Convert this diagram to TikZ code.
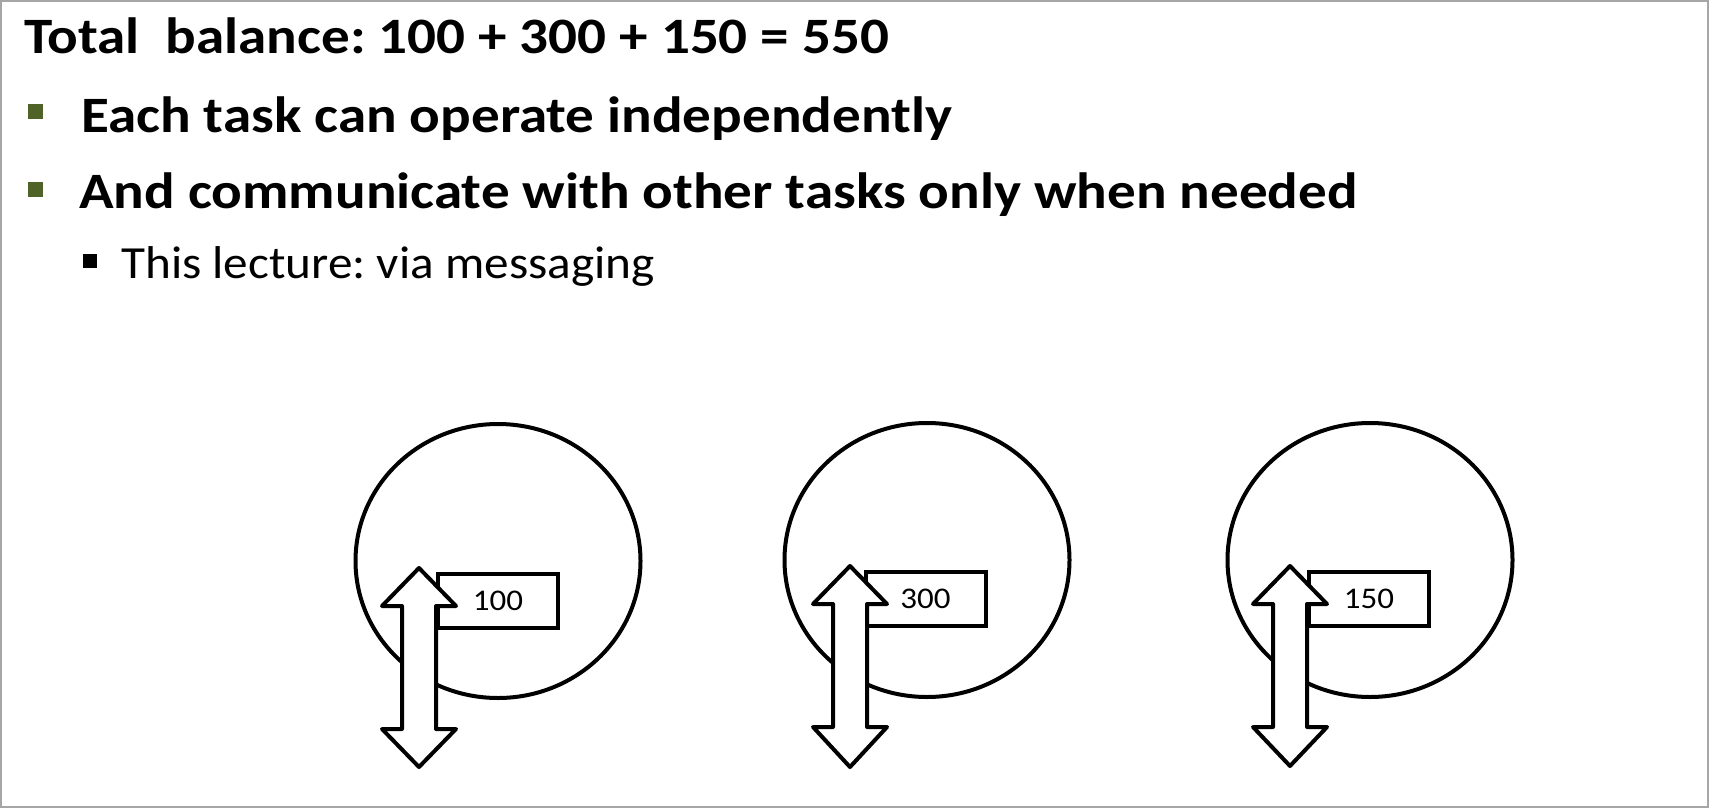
\documentclass[tikz,border=0pt]{standalone}
\usepackage{fontspec}
\setmainfont{Carlito}
\usetikzlibrary{shapes.geometric}
\usepackage{xcolor}
\definecolor{slidegray}{HTML}{A6A6A6}
\definecolor{bulletgreen}{HTML}{4F6228}
\frenchspacing
\begin{document}
\begin{tikzpicture}[x=1pt, y=-1pt,
    headtext/.style={anchor=base west, inner sep=0pt, xscale=1.12,
                     font=\fontsize{51}{60}\selectfont\bfseries},
    subtext/.style={anchor=base west, inner sep=0pt, xscale=1.07,
                    font=\fontsize{46}{54}\selectfont},
    bulletsq/.style={draw=none, inner sep=0pt, minimum size=15pt},
    account/.style={ellipse, draw=black, fill=white, line width=4pt,
                    minimum width=285pt, minimum height=274pt},
    valbox/.style={rectangle, draw=black, fill=white, line width=4pt, inner sep=0pt,
                   minimum width=120pt, minimum height=54pt},
    msgarrow/.style={draw=black, fill=white, line width=4pt, line join=round}]
  \useasboundingbox (0,0) rectangle (1710,808);
  \draw[slidegray, line width=2pt] (1,1) rectangle (1708,807);

  % text lines
  \node[headtext] (title) at (24,53) {Total\ \ balance: 100 + 300 + 150 = 550};
  \node[bulletsq, fill=bulletgreen] (sq1) at (35.5,111) {};
  \node[headtext] (point1) at (81,132) {Each task can operate independently};
  \node[bulletsq, fill=bulletgreen] (sq2) at (35.5,189.5) {};
  \node[headtext] (point2) at (79,208) {And communicate with other tasks only when needed};
  \node[bulletsq, fill=black, minimum size=14pt] (sq3) at (90,260.5) {};
  \node[subtext] (point3) at (121,278) {This lecture: via messaging};

  % three tasks
  \node[account] (task1) at (498,561) {};
  \node[account] (task2) at (927,560) {};
  \node[account] (task3) at (1370,560) {};
  \node[valbox] (val1) at (498,601) {};
  \node[valbox] (val2) at (925.5,599) {};
  \node[valbox] (val3) at (1369,598.5) {};
  \node[xscale=1.1, font=\fontsize{30}{36}\selectfont] (num1) at (val1) {100};
  \node[xscale=1.1, font=\fontsize{30}{36}\selectfont] (num2) at (val2) {300};
  \node[xscale=1.1, font=\fontsize{30}{36}\selectfont] (num3) at (val3) {150};

  % message arrows
  \draw[msgarrow, shift={(419,568)}] (0,0) -- (37,38) -- (17,38) -- (17,161) -- (37,161)
    -- (0,199) -- (-37,161) -- (-17,161) -- (-17,38) -- (-37,38) -- cycle;
  \draw[msgarrow, shift={(850,566)}] (0,0) -- (37,38) -- (17,38) -- (17,161) -- (37,161)
    -- (0,201) -- (-37,161) -- (-17,161) -- (-17,38) -- (-37,38) -- cycle;
  \draw[msgarrow, shift={(1290,566)}] (0,0) -- (37,38) -- (17,38) -- (17,161) -- (37,161)
    -- (0,200) -- (-37,161) -- (-17,161) -- (-17,38) -- (-37,38) -- cycle;
\end{tikzpicture}
\end{document}
